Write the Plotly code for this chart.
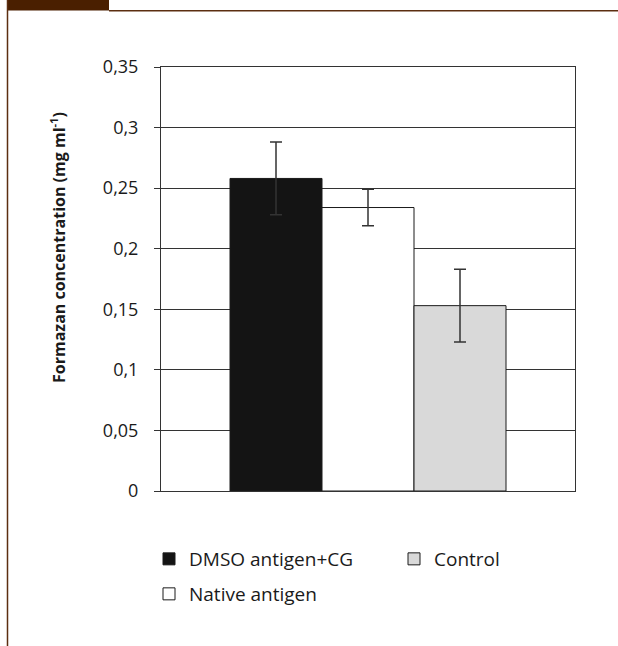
import plotly.graph_objects as go

# ---- data ----
series_names = ["DMSO antigen+CG", "Native antigen", "Control"]
values = [0.258, 0.234, 0.153]
errors = [0.030, 0.015, 0.030]
bar_colors = ["#141414", "#ffffff", "#d9d9d9"]
legend_ids = ["legend", "legend2", "legend"]
tick_vals = [0, 0.05, 0.1, 0.15, 0.2, 0.25, 0.3, 0.35]
tick_text = ["0", "0,05", "0,1", "0,15", "0,2", "0,25", "0,3", "0,35"]
y_title = "Formazan concentration (mg ml<sup>-1</sup>)"

W, H = 618, 646
L, R, T, B = 161, 43, 67, 155
pw, ph = W - L - R, H - T - B

def px_x(x):
    return (x - L) / pw

def px_y(y):
    return (H - B - y) / ph

FONT = "Open Sans"
TXT = "#1a1a1a"

fig = go.Figure()
for name, v, e, c, lg in zip(series_names, values, errors, bar_colors, legend_ids):
    fig.add_trace(go.Bar(
        x=[0], y=[v], name=name, legend=lg,
        marker=dict(color=c, line=dict(color="#1a1a1a", width=1)),
        error_y=dict(type="data", array=[e], visible=True,
                     color="#333333", thickness=1.5, width=6),
    ))

leg_common = dict(
    orientation="h", xanchor="left", yanchor="middle",
    entrywidth=200, entrywidthmode="pixels",
    font=dict(family=FONT, size=19, color=TXT),
    traceorder="normal", bgcolor="rgba(0,0,0,0)", borderwidth=0,
)

fig.update_layout(
    width=W, height=H,
    margin=dict(l=L, r=R, t=T, b=B, pad=0, autoexpand=False),
    paper_bgcolor="white", plot_bgcolor="white",
    barmode="group", bargap=1/3, bargroupgap=0,
    font=dict(family=FONT, size=18, color=TXT),
    showlegend=True,
    legend=dict(x=px_x(149), y=px_y(559), **leg_common),
    legend2=dict(x=px_x(149), y=px_y(594), **leg_common),
    xaxis=dict(
        range=[-0.5, 0.5], showticklabels=False, ticks="",
        showline=True, linecolor="#333333", linewidth=1, mirror=True,
        showgrid=False, zeroline=False,
    ),
    yaxis=dict(
        range=[0, 0.35], tickvals=tick_vals, ticktext=tick_text,
        ticks="outside", ticklen=6, tickcolor="#333333", tickwidth=1,
        ticklabelstandoff=12,
        showline=True, linecolor="#333333", linewidth=1, mirror=True,
        showgrid=True, gridcolor="#333333", gridwidth=1, zeroline=False,
        tickfont=dict(family=FONT, size=18, color=TXT),
    ),
)

fig.add_annotation(
    text=y_title, textangle=-90, showarrow=False,
    xref="paper", yref="paper", x=px_x(58), y=px_y(248),
    xanchor="center", yanchor="middle",
    font=dict(family=FONT, size=16, color=TXT, weight="bold"),
)

# decorative page frame
brown = "#4a1f00"
fig.add_shape(type="rect", xref="paper", yref="paper",
              x0=px_x(7), x1=px_x(109), y0=px_y(0), y1=px_y(10.5),
              fillcolor=brown, line=dict(width=0), layer="above")
fig.add_shape(type="line", xref="paper", yref="paper",
              x0=px_x(109), x1=px_x(618), y0=px_y(10.7), y1=px_y(10.7),
              line=dict(color="#5c2e10", width=1.5), layer="above")
fig.add_shape(type="line", xref="paper", yref="paper",
              x0=px_x(7.5), x1=px_x(7.5), y0=px_y(0), y1=px_y(646),
              line=dict(color="#5c2e10", width=1.5), layer="above")

fig.write_html(
    "out.html",
    config={"displayModeBar": False},
    post_script="document.body.style.margin='0';document.body.style.overflow='hidden';",
)
